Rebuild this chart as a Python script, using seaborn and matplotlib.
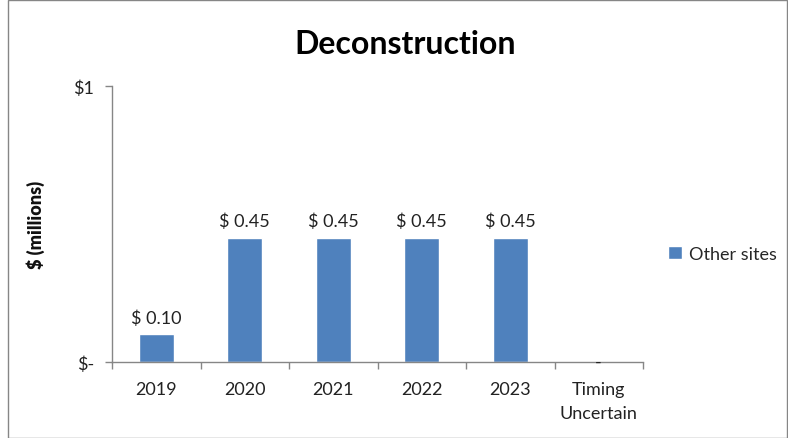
import matplotlib
matplotlib.use("Agg")
import matplotlib.pyplot as plt
import seaborn as sns
import pandas as pd
from matplotlib.patches import Rectangle

categories = ["2019", "2020", "2021", "2022", "2023", "Timing\nUncertain"]
values = [0.10, 0.45, 0.45, 0.45, 0.45, 0.0]
labels = ["$ 0.10", "$ 0.45", "$ 0.45", "$ 0.45", "$ 0.45", "-"]
series_name = "Other sites"
ytick_vals = [0, 1]
ytick_labels = ["$-", "$1"]

sns.set_theme(style="white")
plt.rcParams["font.family"] = ["Lato", "DejaVu Sans"]

df = pd.DataFrame({"cat": categories, "val": values, "series": series_name})

fig = plt.figure(figsize=(7.88, 4.39), dpi=100)
ax = fig.add_axes([112/788, 1-363/439, (643-112)/788, (363-87)/439])

sns.barplot(data=df, x="cat", y="val", hue="series", palette=["#4F81BD"],
            width=0.4, ax=ax, saturation=1)

ax.set_ylim(0, 1)
ax.set_xlim(-0.5, len(categories)-0.5)
ax.set_yticks(ytick_vals)
ax.set_yticklabels(ytick_labels, fontsize=13, color="#222222")
ax.set_xticks(range(len(categories)))
ax.set_xticklabels(categories, fontsize=13, color="#222222", linespacing=1.55)
ax.set_xticks([i-0.5 for i in range(len(categories)+1)], minor=True)
ax.tick_params(axis="x", which="major", length=0, pad=14)
ax.tick_params(axis="x", which="minor", length=5, color="#868686", width=1, direction="out", bottom=True)
ax.tick_params(axis="y", which="major", length=5, color="#868686", width=1, direction="out", left=True, pad=8)
for s in ["top", "right"]:
    ax.spines[s].set_visible(False)
for s in ["left", "bottom"]:
    ax.spines[s].set_color("#868686")
    ax.spines[s].set_linewidth(1)
ax.set_xlabel("")
ax.set_ylabel("$ (millions)", fontsize=13, fontweight="heavy", color="#111111", labelpad=20)

for c in ax.containers:
    lbls = [l if v > 0 else "" for l, v in zip(labels, values)]
    ax.bar_label(c, labels=lbls, padding=6, fontsize=13, color="#222222")
for i, (l, v) in enumerate(zip(labels, values)):
    if v == 0:
        ax.text(i, v, l, ha="center", va="center", fontsize=13, color="#222222", clip_on=False)

leg = ax.legend(loc="center left", bbox_to_anchor=(652/788, 1-255/439), bbox_transform=fig.transFigure,
                frameon=False, fontsize=13, handlelength=0.75, handleheight=0.75, handletextpad=0.4)

fig.text(405/788, 1-45/439, "Deconstruction", ha="center", va="center", fontsize=23, fontweight="bold", color="#000000")

fig.patches.append(Rectangle((8/788, 0.5/439), 779/788, 438/439, transform=fig.transFigure,
                             fill=False, edgecolor="#868686", linewidth=1))

fig.savefig("out.png", dpi=100)
